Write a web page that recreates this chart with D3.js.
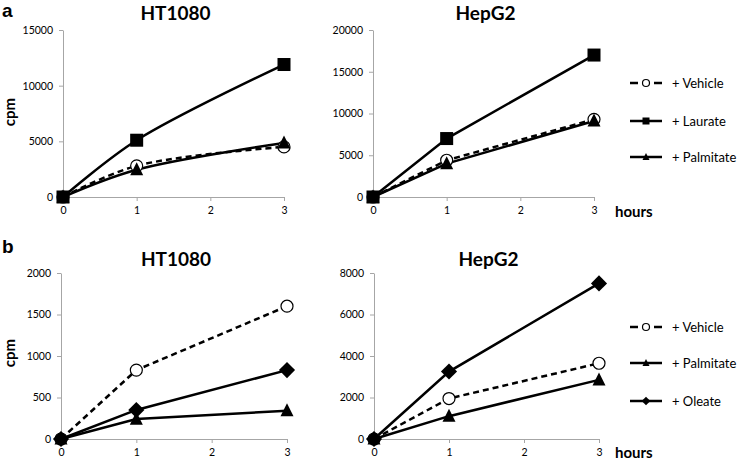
<!DOCTYPE html>
<html><head><meta charset="utf-8">
<script src="https://cdn.jsdelivr.net/npm/d3@7"></script>
<style>body{margin:0;background:#fff}svg{display:block;font-family:Lato,"Open Sans",sans-serif}</style>
</head><body><svg id="c" width="746" height="460"></svg>
<script>
const hours = [0, 1, 3];
const xTicks = [0, 1, 2, 3];
// Panel a
const aHT_vehicle = [0, 2800, 4500];
const aHT_laurate = [0, 5100, 11900];
const aHT_palmitate = [0, 2450, 4850];
const aHep_vehicle = [0, 4400, 9300];
const aHep_laurate = [0, 7000, 17000];
const aHep_palmitate = [0, 4000, 9100];
// Panel b
const bHT_vehicle = [0, 830, 1600];
const bHT_palmitate = [0, 240, 340];
const bHT_oleate = [0, 350, 830];
const bHep_vehicle = [0, 1950, 3650];
const bHep_palmitate = [0, 1100, 2850];
const bHep_oleate = [0, 3250, 7500];
const aHT_ticks = [0, 5000, 10000, 15000];
const aHep_ticks = [0, 5000, 10000, 15000, 20000];
const bHT_ticks = [0, 500, 1000, 1500, 2000];
const bHep_ticks = [0, 2000, 4000, 6000, 8000];
const legendA = ["+ Vehicle", "+ Laurate", "+ Palmitate"];
const legendB = ["+ Vehicle", "+ Palmitate", "+ Oleate"];

const svg = d3.select("#c");

function marker(g, type, x, y, s) {
  if (type === "circle") {
    g.append("circle").attr("cx", x).attr("cy", y).attr("r", s / 2)
      .attr("fill", "#fff").attr("stroke", "#000").attr("stroke-width", 1.2);
  } else if (type === "square") {
    g.append("rect").attr("x", x - s / 2).attr("y", y - s / 2).attr("width", s).attr("height", s).attr("fill", "#000");
  } else if (type === "triangle") {
    const h = s * 0.95;
    g.append("path").attr("d", `M${x},${y - h * 0.6}L${x + s / 2},${y + h * 0.45}L${x - s / 2},${y + h * 0.45}Z`).attr("fill", "#000");
  } else if (type === "diamond") {
    const r = s * 0.62;
    g.append("path").attr("d", `M${x},${y - r}L${x + r},${y}L${x},${y + r}L${x - r},${y}Z`).attr("fill", "#000");
  }
}

function panel(cfg) {
  const x = d3.scaleLinear().domain([0, 3]).range([cfg.x0, cfg.x3]);
  const y = d3.scaleLinear().domain([0, cfg.ymax]).range([cfg.y0, cfg.yTop]);
  const g = svg.append("g");
  const ya = g.append("g").attr("transform", `translate(${cfg.x0},0)`)
    .call(d3.axisLeft(y).tickValues(cfg.yticks).tickFormat(d3.format("d")).tickSize(4).tickPadding(6).tickSizeOuter(0));
  const xa = g.append("g").attr("transform", `translate(0,${cfg.y0})`)
    .call(d3.axisBottom(x).tickValues(xTicks).tickFormat(d3.format("d")).tickSize(4).tickPadding(6).tickSizeOuter(0));
  [ya, xa].forEach(a => {
    a.selectAll("path,line").attr("stroke", "#a6a6a6").attr("stroke-width", 1);
    a.selectAll("text").attr("font-size", 10.5).attr("fill", "#000").attr("font-family", "Lato");
  });
  g.append("text").attr("x", (cfg.x0 + cfg.x3) / 2 + 2).attr("y", cfg.titleY).attr("text-anchor", "middle")
    .attr("font-size", 19).attr("font-weight", "bold").text(cfg.title);
  const line = d3.line().x((d, i) => x(hours[i])).y(d => y(d)).curve(cfg.curve || d3.curveLinear);
  cfg.series.forEach(s => {
    g.append("path").datum(s.values).attr("d", line).attr("fill", "none").attr("stroke", "#000")
      .attr("stroke-width", 2.5).attr("stroke-dasharray", s.dash ? "6,4" : null);
  });
  cfg.series.forEach(s => {
    s.values.forEach((v, i) => marker(g, s.marker, x(hours[i]), y(v), s.size));
  });
}

function legend(items, markers, dashes, ys) {
  items.forEach((t, i) => {
    const g = svg.append("g");
    if (dashes[i]) {
      g.append("line").attr("x1", 630).attr("x2", 638).attr("y1", ys[i]).attr("y2", ys[i]).attr("stroke", "#000").attr("stroke-width", 2.5);
      g.append("line").attr("x1", 654).attr("x2", 662).attr("y1", ys[i]).attr("y2", ys[i]).attr("stroke", "#000").attr("stroke-width", 2.5);
    } else {
      g.append("line").attr("x1", 630).attr("x2", 662).attr("y1", ys[i]).attr("y2", ys[i]).attr("stroke", "#000").attr("stroke-width", 2.5);
    }
    marker(g, markers[i], 646, ys[i], 7);
    g.append("text").attr("x", 672).attr("y", ys[i] + 4.5).attr("font-size", 13).text(t);
  });
}

panel({ title: "HT1080", titleY: 20, x0: 63, x3: 284, y0: 197, yTop: 30, ymax: 15000, yticks: aHT_ticks, curve: d3.curveCatmullRom,
  series: [
    { values: aHT_vehicle, marker: "circle", size: 12, dash: true },
    { values: aHT_laurate, marker: "square", size: 13 },
    { values: aHT_palmitate, marker: "triangle", size: 13 }] });
panel({ title: "HepG2", titleY: 20, x0: 373, x3: 594, y0: 197, yTop: 30, ymax: 20000, yticks: aHep_ticks,
  series: [
    { values: aHep_vehicle, marker: "circle", size: 12, dash: true },
    { values: aHep_laurate, marker: "square", size: 13 },
    { values: aHep_palmitate, marker: "triangle", size: 13 }] });
panel({ title: "HT1080", titleY: 266, x0: 61, x3: 287, y0: 439, yTop: 273, ymax: 2000, yticks: bHT_ticks,
  series: [
    { values: bHT_vehicle, marker: "circle", size: 12, dash: true },
    { values: bHT_oleate, marker: "diamond", size: 13 },
    { values: bHT_palmitate, marker: "triangle", size: 13 }] });
panel({ title: "HepG2", titleY: 266, x0: 374, x3: 599, y0: 439, yTop: 273, ymax: 8000, yticks: bHep_ticks,
  series: [
    { values: bHep_vehicle, marker: "circle", size: 12, dash: true },
    { values: bHep_oleate, marker: "diamond", size: 13 },
    { values: bHep_palmitate, marker: "triangle", size: 13 }] });

legend(legendA, ["circle", "square", "triangle"], [true, false, false], [83, 121, 157]);
legend(legendB, ["circle", "triangle", "diamond"], [true, false, false], [327, 363, 401]);

svg.append("text").attr("x", 2).attr("y", 17).attr("font-size", 19).attr("font-weight", "bold").attr("font-family", "Liberation Sans").text("a");
svg.append("text").attr("x", 2).attr("y", 253).attr("font-size", 19).attr("font-weight", "bold").attr("font-family", "Liberation Sans").text("b");
[[15, 112], [15, 353]].forEach(p => {
  svg.append("text").attr("transform", `translate(${p[0]},${p[1]}) rotate(-90)`).attr("text-anchor", "middle")
    .attr("font-size", 15).attr("font-weight", "bold").text("cpm");
});
svg.append("text").attr("x", 615).attr("y", 217).attr("font-size", 15).attr("font-weight", "bold").text("hours");
svg.append("text").attr("x", 615).attr("y", 458).attr("font-size", 15).attr("font-weight", "bold").text("hours");
</script></body></html>
